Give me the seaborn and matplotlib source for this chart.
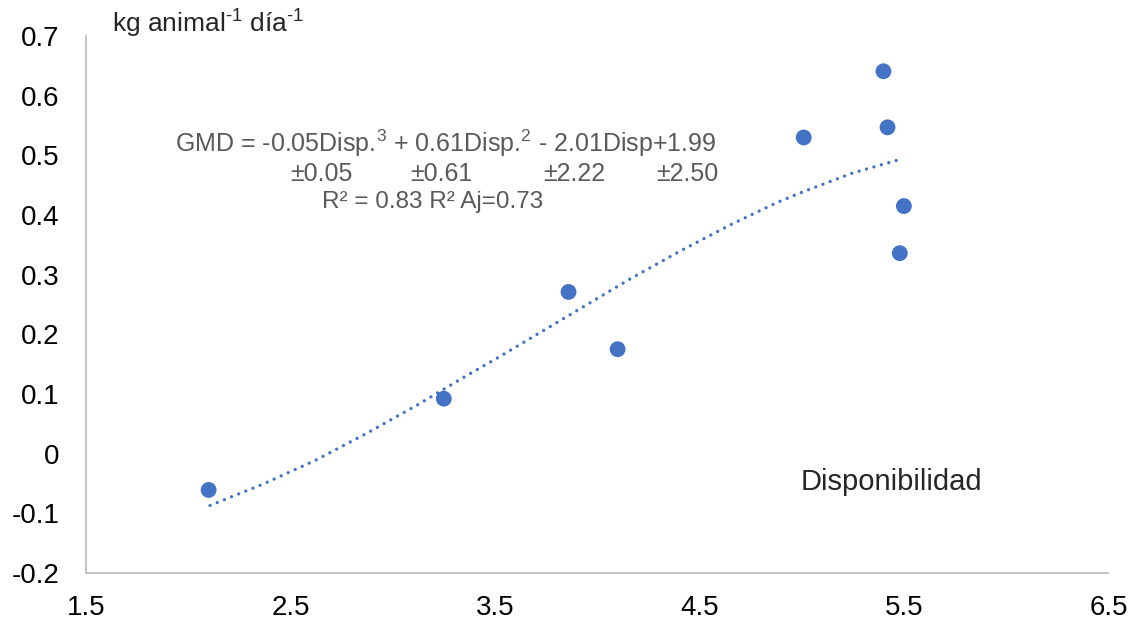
import numpy as np
import pandas as pd
import seaborn as sns
import matplotlib.pyplot as plt

# Disponibilidad (x) vs GMD (kg animal-1 dia-1)
disp = [2.10, 3.25, 3.86, 4.10, 5.01, 5.40, 5.42, 5.50, 5.48]
gmd = [-0.061, 0.092, 0.271, 0.175, 0.530, 0.641, 0.547, 0.415, 0.336]

# polynomial trend line as drawn in the picture
trend_x = [2.107, 2.367, 2.624, 2.873, 3.118, 3.363, 3.501, 3.672, 3.917,
           4.157, 4.403, 4.654, 4.874, 4.985, 5.246, 5.479]
trend_y = [-0.087, -0.051, -0.011, 0.034, 0.081, 0.131, 0.158, 0.193, 0.243,
           0.292, 0.339, 0.384, 0.420, 0.436, 0.470, 0.493]

x_ticks = [1.5, 2.5, 3.5, 4.5, 5.5, 6.5]
y_ticks = [-0.2, -0.1, 0, 0.1, 0.2, 0.3, 0.4, 0.5, 0.6, 0.7]
y_labels = ["-0.2", "-0.1", "0", "0.1", "0.2", "0.3", "0.4", "0.5", "0.6", "0.7"]

eq_line = r"GMD = -0.05Disp.$^{\mathrm{3}}$ + 0.61Disp.$^{\mathrm{2}}$ - 2.01Disp+1.99"
se_labels = ["±0.05", "±0.61", "±2.22", "±2.50"]
se_x = [2.498, 3.085, 3.736, 4.289]
r2_line = "R² = 0.83 R² Aj=0.73"

blue = "#4472C4"
grey = "#595959"

sns.set_style("white")
plt.rcParams['font.family'] = ['Liberation Sans', 'DejaVu Sans']
plt.rcParams['mathtext.fontset'] = 'custom'
plt.rcParams['mathtext.rm'] = 'Liberation Sans'
plt.rcParams['mathtext.it'] = 'Liberation Sans:italic'

df = pd.DataFrame({'disp': disp, 'gmd': gmd})
trend = pd.DataFrame({'x': trend_x, 'y': trend_y})

fig = plt.figure(figsize=(11.31, 6.22), dpi=100)
ax = fig.add_axes([0.076, 0.079, 0.904, 0.863])

sns.lineplot(data=trend, x='x', y='y', ax=ax, color=blue, lw=2.4,
             linestyle=(0, (0.01, 2.3)), dash_capstyle='round', sort=False)
sns.scatterplot(data=df, x='disp', y='gmd', ax=ax, s=130, color=blue,
                edgecolor='none', zorder=3)

ax.set_xlim(1.5, 6.5)
ax.set_ylim(-0.2, 0.7)
ax.set_xticks(x_ticks)
ax.set_xticklabels([str(v) for v in x_ticks])
ax.set_yticks(y_ticks)
ax.set_yticklabels(y_labels)
ax.set_xlabel('')
ax.set_ylabel('')
ax.tick_params(axis='both', length=0, labelsize=20, colors='black')
ax.tick_params(axis='y', pad=19)
ax.tick_params(axis='x', pad=16)

for s in ['top', 'right']:
    ax.spines[s].set_visible(False)
for s in ['left', 'bottom']:
    ax.spines[s].set_color('#BFBFBF')
    ax.spines[s].set_linewidth(1.3)

ax.text(1.627, 0.705, "kg animal$^{\\mathrm{\u20101}}$ día$^{\\mathrm{\u20101}}$",
        fontsize=19, va='baseline', ha='left', clip_on=False)

ax.text(1.935, 0.506, eq_line, fontsize=18, color=grey, va='baseline', ha='left')
for lab, xx in zip(se_labels, se_x):
    ax.text(xx, 0.457, lab, fontsize=18, color=grey, va='baseline', ha='left')
ax.text(2.655, 0.412, r2_line, fontsize=17.5, color=grey, va='baseline', ha='left')

ax.text(4.993, -0.061, "Disponibilidad", fontsize=21, va='baseline', ha='left')

fig.savefig('out.png', dpi=100)
